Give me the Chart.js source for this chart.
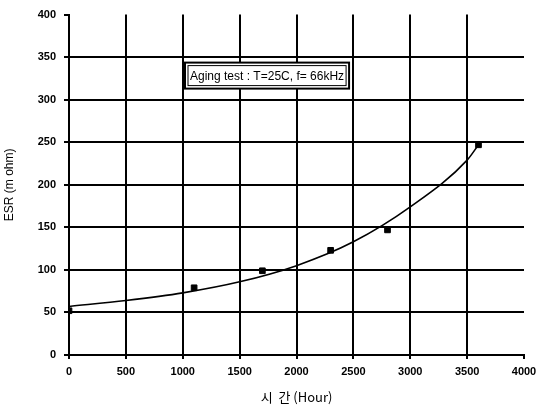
<!DOCTYPE html>
<html>
<head>
<meta charset="utf-8">
<script src="https://cdn.jsdelivr.net/npm/chart.js@4/dist/chart.umd.min.js"></script>
<style>
  html, body { margin: 0; padding: 0; background: #fff; }
  #wrap { width: 539px; height: 412px; }
</style>
</head>
<body>
<div id="wrap"><canvas id="esrChart" width="539" height="412"></canvas></div>
<script>
// measured points (hours, ESR m ohm)
const hours = [0, 1100, 1700, 2300, 2800, 3600];
const esr = [52, 79, 99, 123, 147, 247];

// fitted curve
const fitHours = [0, 500, 1000, 1500, 2000, 2500, 3000, 3500, 3600];
const fitEsr = [57, 64, 73, 86, 105, 133, 174, 229, 247];

const xTicks = [0, 500, 1000, 1500, 2000, 2500, 3000, 3500, 4000];
const yTicks = [0, 50, 100, 150, 200, 250, 300, 350, 400];

const noteText = 'Aging test : T=25C, f= 66kHz';

// draws the boxed note inside the plot
const notePlugin = {
  id: 'note',
  afterDatasetsDraw(chart) {
    const ctx = chart.ctx;
    const a = chart.chartArea;
    const x = a.left + 116, y = a.top + 48;
    ctx.save();
    ctx.font = '12px "Liberation Sans", Arial, sans-serif';
    const w = ctx.measureText(noteText).width + 10;
    const h = 26;
    ctx.fillStyle = '#fff';
    ctx.fillRect(x, y, w, h);
    ctx.strokeStyle = '#000';
    ctx.lineWidth = 2;
    ctx.strokeRect(x, y, w, h);
    ctx.lineWidth = 1;
    ctx.strokeRect(x + 3, y + 3, w - 6, h - 6);
    ctx.fillStyle = '#000';
    ctx.textBaseline = 'middle';
    ctx.fillText(noteText, x + 5, y + h / 2 + 1);
    ctx.restore();
  }
};

const tickFont = { family: '"Liberation Sans", Arial, sans-serif', size: 11, weight: 'bold' };

new Chart(document.getElementById('esrChart').getContext('2d'), {
  type: 'scatter',
  data: {
    datasets: [
      {
        label: 'fit',
        data: fitHours.map((h, i) => ({ x: h, y: fitEsr[i] })),
        showLine: true,
        borderColor: '#000',
        borderWidth: 1.6,
        pointRadius: 0,
        tension: 0.4,
        cubicInterpolationMode: 'monotone'
      },
      {
        label: 'ESR',
        data: hours.map((h, i) => ({ x: h, y: esr[i] })),
        backgroundColor: '#000',
        borderColor: '#000',
        pointStyle: 'rect',
        pointRadius: 4,
        showLine: false
      }
    ]
  },
  options: {
    responsive: false,
    animation: false,
    layout: { padding: { top: 14, right: 15, left: 0, bottom: 0 } },
    plugins: { legend: { display: false }, tooltip: { enabled: false } },
    scales: {
      x: {
        type: 'linear',
        min: 0, max: 4000,
        afterBuildTicks: s => { s.ticks = xTicks.map(v => ({ value: v })); },
        afterFit: s => { s.height = 57; s.paddingRight = 0; },
        border: { color: '#000', width: 2 },
        grid: {
          color: c => (c.tick && c.tick.value === 4000) ? 'rgba(0,0,0,0)' : '#000',
          lineWidth: 2,
          tickLength: 4,
          tickColor: '#000'
        },
        ticks: {
          color: '#000',
          padding: 6,
          maxRotation: 0,
          font: tickFont,
          callback: v => String(v)
        },
        title: {
          display: true,
          text: '시  간 (Hour)',
          color: '#000',
          padding: { top: 4, bottom: 7 },
          font: { family: '"Noto Sans CJK KR", "Liberation Sans", sans-serif', size: 13 }
        }
      },
      y: {
        min: 0, max: 400,
        afterBuildTicks: s => { s.ticks = yTicks.map(v => ({ value: v })); },
        afterFit: s => { s.width = 69; },
        border: { color: '#000', width: 2 },
        grid: {
          color: c => (c.tick && c.tick.value === 400) ? 'rgba(0,0,0,0)' : '#000',
          lineWidth: 2,
          tickLength: 5,
          tickColor: '#000'
        },
        ticks: {
          color: '#000',
          padding: 8,
          font: tickFont,
          callback: v => String(v)
        },
        title: {
          display: true,
          text: 'ESR (m ohm)',
          color: '#000',
          padding: { top: 2, bottom: 2 },
          font: { family: '"Liberation Sans", Arial, sans-serif', size: 12 }
        }
      }
    }
  },
  plugins: [notePlugin]
});
</script>
</body>
</html>
